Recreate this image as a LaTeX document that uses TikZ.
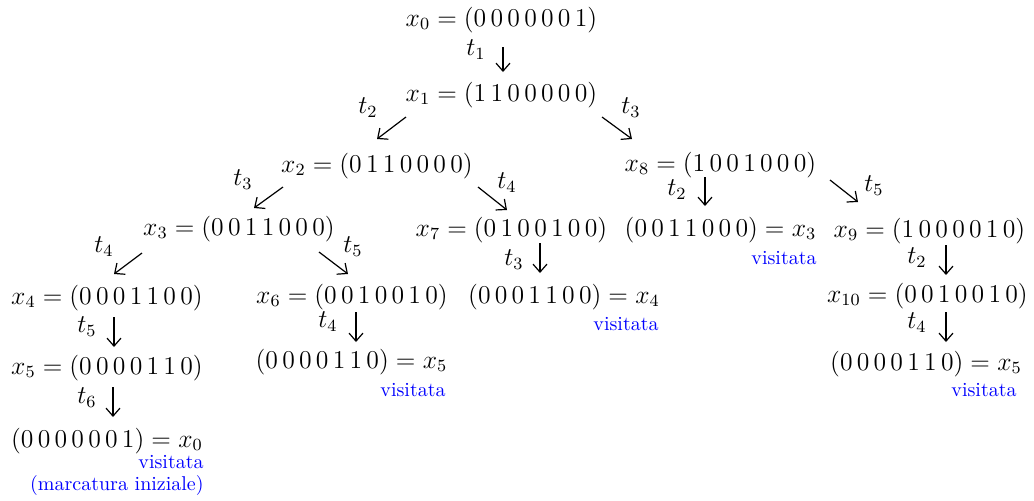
\documentclass[tikz,border=0pt]{standalone}
\usetikzlibrary{calc,arrows.meta}
\newcommand{\stv}[7]{(#1\,#2\,#3\,#4\,#5\,#6\,#7)}
\begin{document}
\begin{tikzpicture}[x=0.5pt,y=-0.5pt,
  st/.style={anchor=base,inner sep=0pt,scale=1.07,font=\fontsize{12}{14}\selectfont},
  lab/.style={inner sep=0pt,scale=1.07,font=\fontsize{12}{14}\selectfont},
  vis/.style={anchor=base east,inner sep=0pt,text=blue,font=\fontsize{10}{12}\selectfont},
  arr/.style={-{Straight Barb[length=4pt,width=7pt]},line width=0.6pt}]
\useasboundingbox (0,0) rectangle (1034,500);
% states
\node[st] (x0)  at (501.5,26)  {$x_0 = \stv0000001$};
\node[st] (x1)  at (501.5,101) {$x_1 = \stv1100000$};
\node[st] (x2)  at (377,172)   {$x_2 = \stv0110000$};
\node[st] (x8)  at (720.5,171) {$x_8 = \stv1001000$};
\node[st] (x3)  at (239,235)   {$x_3 = \stv0011000$};
\node[st] (x7)  at (511.5,236) {$x_7 = \stv0100100$};
\node[st] (x3c) at (720.5,236) {$\stv0011000 = x_3$};
\node[st] (x9)  at (929.5,237) {$x_9 = \stv1000010$};
\node[st] (x4)  at (107,304)   {$x_4 = \stv0001100$};
\node[st] (x6)  at (352,303)   {$x_6 = \stv0010010$};
\node[st] (x4c) at (564,303)   {$\stv0001100 = x_4$};
\node[st] (x10) at (927.5,302) {$x_{10} = \stv0010010$};
\node[st] (x5)  at (107,374)   {$x_5 = \stv0000110$};
\node[st] (x5m) at (351.5,368) {$\stv0000110 = x_5$};
\node[st] (x5r) at (926,370)   {$\stv0000110 = x_5$};
\node[st] (x0c) at (107,447)   {$\stv0000001 = x_0$};
% visited notes
\node[vis] (v3)  at (817,264)  {visitata};
\node[vis] (v4)  at (659,330)  {visitata};
\node[vis] (v5m) at (446,396)  {visitata};
\node[vis] (v5r) at (1017,396) {visitata};
\node[vis] (v0)  at (204,468)  {visitata};
\node[vis] (v0b) at (204,490)  {(marcatura iniziale)};
% arrows
\draw[arr] ($(x0.base)+(1.5,21)$)   -- ($(x1.base)+(1.5,-29)$);
\draw[arr] ($(x1.base)+(-95.5,16)$) -- ($(x2.base)+(0,-33)$);
\draw[arr] ($(x1.base)+(100.5,16)$) -- ($(x8.base)+(-88.5,-32)$);
\draw[arr] ($(x2.base)+(-94,15)$)   -- ($(x3.base)+(15,-27)$);
\draw[arr] ($(x2.base)+(101,15)$)   -- ($(x7.base)+(-4.5,-26)$);
\draw[arr] ($(x8.base)+(-15.5,6)$)  -- ($(x3c.base)+(-15.5,-30)$);
\draw[arr] ($(x8.base)+(109.5,9)$)  -- ($(x9.base)+(-71.5,-35)$);
\draw[arr] ($(x3.base)+(-97,18)$)   -- ($(x4.base)+(7,-30)$);
\draw[arr] ($(x3.base)+(80,17)$)    -- ($(x6.base)+(-4,-29)$);
\draw[arr] ($(x7.base)+(28.5,7)$)   -- ($(x4c.base)+(-24,-30)$);
\draw[arr] ($(x9.base)+(16.5,8)$)   -- ($(x10.base)+(18.5,-27)$);
\draw[arr] ($(x10.base)+(18.5,10)$) -- ($(x5r.base)+(20,-28)$);
\draw[arr] ($(x4.base)+(7,13)$)     -- ($(x5.base)+(7,-27)$);
\draw[arr] ($(x5.base)+(6,13)$)     -- ($(x0c.base)+(6,-30)$);
\draw[arr] ($(x6.base)+(4,9)$)      -- ($(x5m.base)+(4.5,-26)$);
% transition labels
\node[lab] (l1)  at (476,50)  {$t_1$};
\node[lab] (l2)  at (368,108) {$t_2$};
\node[lab] (l3)  at (631,108) {$t_3$};
\node[lab] (l4)  at (243,180) {$t_3$};
\node[lab] (l5)  at (507,183) {$t_4$};
\node[lab] (l6)  at (677,190) {$t_2$};
\node[lab] (l7)  at (874,186) {$t_5$};
\node[lab] (l8)  at (104,247) {$t_4$};
\node[lab] (l9)  at (353,247) {$t_5$};
\node[lab] (l10) at (514,260) {$t_3$};
\node[lab] (l11) at (917,258) {$t_2$};
\node[lab] (l12) at (917,323) {$t_4$};
\node[lab] (l13) at (87,327)  {$t_5$};
\node[lab] (l14) at (87,398)  {$t_6$};
\node[lab] (l15) at (328,322) {$t_4$};
\end{tikzpicture}
\end{document}
